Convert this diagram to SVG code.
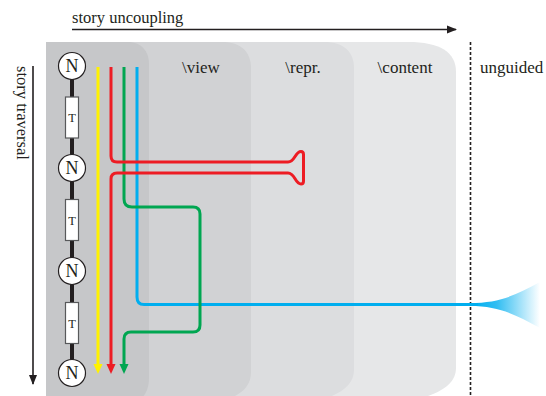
<svg xmlns="http://www.w3.org/2000/svg" width="546" height="396" viewBox="0 0 546 396">
  <style>
    .lbl { font-family: "Liberation Serif", "DejaVu Serif", serif; font-size: 16.5px; fill: #231f20; }
    .band { font-size: 17px; }
    .axis { stroke: #231f20; stroke-width: 1.6; fill: none; }
    .node circle { fill: #ffffff; stroke: #231f20; stroke-width: 1.2; }
    .node text { font-family: "Liberation Serif", "DejaVu Serif", serif; font-size: 18px; fill: #231f20; text-anchor: middle; }
    .task rect { fill: #ffffff; stroke: #58595b; stroke-width: 1.2; }
    .task text { font-family: "Liberation Serif", "DejaVu Serif", serif; font-size: 12.5px; fill: #231f20; text-anchor: middle; }
    .path { fill: none; stroke-width: 3; stroke-linejoin: round; }
  </style>
  <defs>
    <marker id="ah" viewBox="0 0 10 10" refX="9" refY="5" markerWidth="10" markerHeight="10" markerUnits="userSpaceOnUse" orient="auto">
      <path d="M0 1 L10 5 L0 9 Z" fill="#231f20"/>
    </marker>
    <linearGradient id="fade" x1="474" y1="0" x2="540" y2="0" gradientUnits="userSpaceOnUse">
      <stop offset="0" stop-color="#00aeef" stop-opacity="1"/>
      <stop offset="0.35" stop-color="#00aeef" stop-opacity="0.8"/>
      <stop offset="1" stop-color="#00aeef" stop-opacity="0"/>
    </linearGradient>
  </defs>

  <!-- layered guidance bands -->
  <g id="bands">
    <path d="M46 42 H408 C440 42 456 52 456 72 V368 C456 384 440 394 414 400 H46 Z" fill="#e6e7e8"/>
    <path d="M46 42 H324 C344 42 354 52 354 68 V370 C354 384 342 394 320 400 H46 Z" fill="#dcdddf"/>
    <path d="M46 42 H222 C241 42 251 52 251 68 V372 C251 386 242 394 226 400 H46 Z" fill="#d1d2d4"/>
    <path d="M46 42 H128 C141 42 149 51 149 64 V378 C149 388 146 394 140 400 H46 Z" fill="#c6c7c9"/>
  </g>

  <!-- band labels -->
  <text class="lbl band" x="201" y="73" text-anchor="middle">\view</text>
  <text class="lbl band" x="303" y="73" text-anchor="middle">\repr.</text>
  <text class="lbl band" x="405" y="73" text-anchor="middle">\content</text>
  <text class="lbl band" x="480" y="73">unguided</text>

  <!-- unguided boundary -->
  <line x1="470.5" y1="42" x2="470.5" y2="396" stroke="#231f20" stroke-width="1.6" stroke-dasharray="3 2"/>

  <!-- axes -->
  <g id="axes">
    <line class="axis" x1="72" y1="29.5" x2="456" y2="29.5" marker-end="url(#ah)"/>
    <text class="lbl" x="72" y="23">story uncoupling</text>
    <line class="axis" x1="33" y1="66" x2="33" y2="384" marker-end="url(#ah)"/>
    <text class="lbl" transform="translate(17,66) rotate(90)">story traversal</text>
  </g>

  <g id="connectors">
    <!-- story chain -->
    <line x1="72" y1="66" x2="72" y2="373" stroke="#231f20" stroke-width="4"/>
    <!-- blue: leaves towards unguided -->
    <path class="path" stroke="#00aeef" d="M137 67 V297 Q137 304.5 144 304.5 H478"/>
    <path d="M470 303 C500 303 516 295 540 282 V328 C516 315 500 306 470 306 Z" fill="url(#fade)"/>
    <!-- green: detour through view -->
    <path class="path" stroke="#00a651" d="M124 67 V199 Q124 207 132 207 H193 Q200 207 200 214 V325 Q200 332 193 332 H131 Q124 332 124 339 V364"/>
    <polygon points="119.5,364 128.5,364 124,374" fill="#00a651"/>
    <!-- red: loop out to repr. -->
    <path class="path" stroke="#ed1c24" d="M111 67 V156 Q111 162 117 162 H288 C295 162 295 151.5 301 151.5 Q303.5 151.5 303.5 154.5 V181 Q303.5 184 301 184 C295 184 295 173 288 173 H117 Q111 173 111 179 V364"/>
    <polygon points="106.5,364 115.5,364 111,374" fill="#ed1c24"/>
    <!-- yellow: straight through -->
    <line class="path" stroke="#fff200" x1="98" y1="67" x2="98" y2="364"/>
    <polygon points="93.5,364 102.5,364 98,374" fill="#fff200"/>
  </g>

  <!-- story nodes -->
  <g id="n1" class="node"><circle cx="72" cy="66" r="13.5"/><text x="72" y="72">N</text></g>
  <g id="t1" class="task"><rect x="65.5" y="97" width="13" height="41"/><text x="72" y="122">T</text></g>
  <g id="n2" class="node"><circle cx="72" cy="168" r="13.5"/><text x="72" y="174">N</text></g>
  <g id="t2" class="task"><rect x="65.5" y="199.5" width="13" height="41"/><text x="72" y="224.5">T</text></g>
  <g id="n3" class="node"><circle cx="72" cy="271" r="13.5"/><text x="72" y="277">N</text></g>
  <g id="t3" class="task"><rect x="65.5" y="302.5" width="13" height="41"/><text x="72" y="327.5">T</text></g>
  <g id="n4" class="node"><circle cx="72" cy="373" r="13.5"/><text x="72" y="379">N</text></g>
</svg>
